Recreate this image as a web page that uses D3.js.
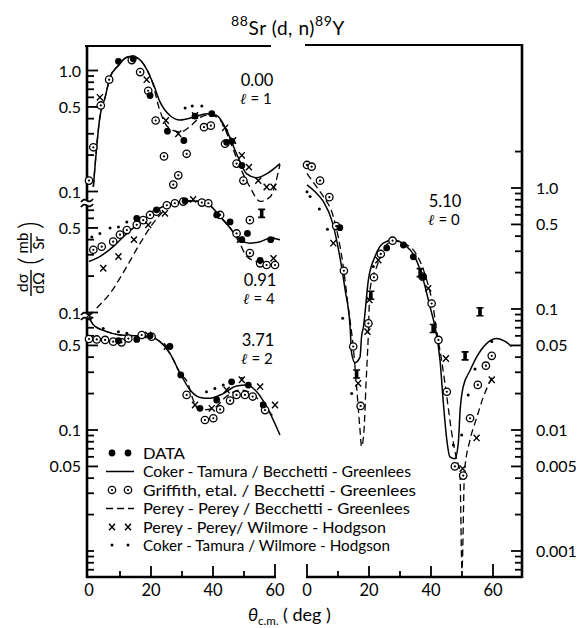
<!DOCTYPE html>
<html><head><meta charset="utf-8">
<script src="https://cdn.jsdelivr.net/npm/d3@7/dist/d3.min.js"></script>
<style>body{margin:0;background:#fff}</style></head>
<body><svg id="c" width="587" height="628"></svg>
<script>
// ---------------- DATA ----------------
const thetaTicks = [0,10,20,30,40,50,60];
const thetaLabels = [0,20,40,60];

const labelsA = [[1,"1.0"],[0.5,"0.5"],[0.1,"0.1"]];
const labelsB = [[0.5,"0.5"],[0.1,"0.1"]];
const labelsC = [[0.5,"0.5"],[0.1,"0.1"],[0.05,"0.05"]];
const labelsD = [[1,"1.0"],[0.5,"0.5"],[0.1,"0.1"],[0.05,"0.05"],[0.01,"0.01"],[0.005,"0.005"],[0.001,"0.001"]];

const legendLabels = ["DATA","Coker - Tamura / Becchetti - Greenlees","Griffith, etal. / Becchetti - Greenlees",
  "Perey - Perey / Becchetti - Greenlees","Perey - Perey/ Wilmore - Hodgson","Coker - Tamura / Wilmore - Hodgson"];

// Panel A : 0.00, l=1
const a_solid = [[1.4,0.109],[3.5,0.41],[5.2,0.60],[6.8,0.88],[9.5,1.10],[12,1.28],[14,1.31],[17.5,1.14],[20.7,0.78],[22.9,0.55],[26.1,0.425],[29.4,0.39],[33.6,0.41],[38,0.44],[41.2,0.425],[44.4,0.32],[47.6,0.205],[50.9,0.14],[54.1,0.13],[57.3,0.14],[61.6,0.17]];
const a_dash = [[1.4,0.109],[3.5,0.41],[5.2,0.60],[6.8,0.88],[9.5,1.10],[12,1.28],[14,1.31],[17.5,1.14],[20.7,0.76],[22.5,0.5],[25.5,0.34],[29.4,0.31],[32.6,0.345],[35.9,0.41],[39,0.43],[42.3,0.39],[45.5,0.26],[48.7,0.16],[51.9,0.109],[55.2,0.083],[58.4,0.090],[61.6,0.167]];
const a_data = [[9.5,1.19],[14.3,1.25],[19.7,0.62],[25.3,0.315],[30.6,0.264],[34.2,0.42],[39.6,0.44],[44.4,0.255],[46.1,0.26],[49.3,0.164]];
const a_err = [];
const a_circ = [[0,0.123],[1.4,0.232],[3.8,0.514],[6.5,0.84],[13.8,1.22],[16.5,0.97],[19.1,0.68],[21.5,0.386],[24.2,0.195],[27.2,0.114],[28.8,0.136],[31.5,0.205],[37.1,0.34],[39.3,0.35],[43.9,0.248],[47.6,0.17],[49.8,0.123]];
const a_cross = [[3.5,0.60],[18.6,0.84],[24.8,0.386],[28.8,0.30],[34.2,0.425],[43.9,0.336],[46.5,0.264],[49.3,0.199],[51.6,0.159],[54.6,0.123],[57.3,0.109],[59.5,0.109]];
const a_dot = [[31,0.49],[33.3,0.51],[36.4,0.51]];

// Panel B : 0.91, l=4
const b_solid = [[0,0.264],[3.5,0.29],[7.8,0.35],[12.2,0.45],[17.5,0.58],[22.9,0.73],[28.3,0.81],[33.6,0.836],[38,0.80],[42.3,0.62],[45.5,0.50],[48.7,0.40],[51.9,0.374],[55.2,0.385],[58.4,0.41],[61.6,0.40]];
const b_dash = [[2.5,0.109],[6.8,0.144],[12.2,0.24],[16.5,0.374],[20.7,0.547],[25.1,0.73],[29.4,0.83],[33.6,0.84],[38,0.80],[42.3,0.62],[45.5,0.50],[48.7,0.37],[50.9,0.29],[54.1,0.264],[57.3,0.255]];
const b_data = [[15.4,0.60],[21.8,0.705],[31,0.836],[41.2,0.64],[45.5,0.56],[49.3,0.40],[51.1,0.45],[55.2,0.27],[58.6,0.40]];
const b_err = [[55.7,0.66]];
const b_circ = [[1.4,0.33],[4.1,0.35],[7.8,0.385],[10,0.44],[12.2,0.48],[15.4,0.53],[17.5,0.58],[19.7,0.64],[21.8,0.68],[25.1,0.77],[27.7,0.80],[30.4,0.825],[36.4,0.81],[38.5,0.80],[42.3,0.64],[47.6,0.45],[51.9,0.58],[51.9,0.31],[55.2,0.255],[57.3,0.247],[60,0.247]];
const b_cross = [[4.6,0.232],[9.5,0.29],[14.5,0.40],[19.1,0.53],[24.5,0.66],[33.6,0.86],[48.7,0.40],[59.5,0.28]];
const b_dot = [[0.9,0.42],[3.5,0.45],[6.8,0.50],[9.5,0.51],[12.2,0.56],[59.5,0.41]];

// Panel C : 3.71, l=2
const c_solid = [[0,0.86],[1.4,0.74],[5.7,0.65],[10,0.61],[15.4,0.60],[19.7,0.59],[22.9,0.537],[26.1,0.43],[29.4,0.294],[32.6,0.214],[35.8,0.186],[39,0.183],[43.3,0.20],[47.6,0.231],[50.9,0.235],[54.1,0.207],[57.3,0.156],[61.6,0.091]];
const c_dash = [[0,0.86],[1.4,0.74],[5.7,0.65],[10,0.61],[15.4,0.60],[19.7,0.59],[22.9,0.537],[26.1,0.43],[29.4,0.294],[31.9,0.243],[33.6,0.177],[35.8,0.146],[40.1,0.151],[44.4,0.19],[48.7,0.214],[52.5,0.20],[56.2,0.161],[59.5,0.129]];
const c_data = [[9.5,0.547],[15.4,0.56],[19.7,0.60],[26.1,0.49],[29.6,0.285],[35.8,0.151],[41.2,0.177],[46,0.25],[51.4,0.235],[56.2,0.161]];
const c_err = [];
const c_circ = [[0,0.565],[2.5,0.56],[5.2,0.555],[7.8,0.537],[10.5,0.53],[12.7,0.57],[17,0.61],[20.2,0.59],[31.5,0.195],[37.4,0.121],[40.1,0.125],[42.3,0.148],[45.5,0.175],[47.6,0.195],[50.3,0.195],[52.8,0.189],[56.8,0.146]];
const c_cross = [[0,0.89],[19.1,0.61],[25.1,0.49],[34.2,0.161],[39.6,0.151],[44.4,0.214],[49.3,0.26],[55.2,0.228],[60,0.161]];
const c_dot = [[4.6,0.69],[9.5,0.65],[12.2,0.63],[37.9,0.207],[40.6,0.22],[43.3,0.235],[46.5,0.25],[49.3,0.267]];

// Panel D : 5.10, l=0
const d_solid = [[0,1.06],[2.6,0.93],[5.3,0.77],[8,0.54],[10.6,0.27],[12.3,0.144],[13.9,0.071],[14.4,0.043],[15.5,0.036],[17.1,0.040],[17.6,0.059],[18.2,0.071],[19.8,0.174],[21.9,0.27],[24.6,0.35],[27.8,0.372],[31.6,0.338],[34.8,0.27],[37.5,0.174],[39.7,0.104],[41.3,0.071],[42.9,0.038],[44,0.0166],[45.1,0.0083],[46.1,0.006],[47.7,0.0058],[48.8,0.0078],[49.4,0.0146],[50.4,0.0228],[52.6,0.031],[54.7,0.040],[58,0.052],[61.2,0.057],[63.9,0.054],[66,0.049]];
const d_dash = [[0,1.32],[3.1,1.02],[5.3,0.85],[8.5,0.58],[11.7,0.224],[13.3,0.104],[14.9,0.049],[16,0.0228],[17.1,0.010],[17.6,0.0073],[18.4,0.010],[19,0.0228],[19.8,0.063],[20.3,0.144],[22.5,0.224],[25.2,0.327],[27.8,0.365],[31.6,0.345],[35.4,0.28],[38.6,0.174],[40.7,0.104],[41.8,0.067],[43.4,0.038],[45.1,0.0188],[46.7,0.0094],[48.3,0.0057],[49.3,0.0046],[50,0.0007],[50.8,0.0045],[52.6,0.0083],[54.7,0.0125],[56.8,0.0185],[59.6,0.027]];
const d_data = [[10.6,0.47],[25.7,0.32],[31.1,0.338],[34.3,0.27],[37.5,0.185]];
const d_err = [[16,0.029],[20.6,0.13],[36.5,0.2],[40.7,0.069],[51,0.041],[55.8,0.095]];
const d_circ = [[0,1.55],[1.5,1.50],[4.2,1.15],[7.2,0.84],[9.4,0.485],[11.9,0.207],[14.9,0.049],[17.3,0.0158],[19.8,0.076],[21.6,0.183],[23.8,0.285],[27.6,0.367],[37.3,0.185],[40.2,0.111],[42.4,0.0555],[45.1,0.0207],[47.7,0.005],[50.4,0.0042],[52.6,0.0125],[55.1,0.0236],[57.7,0.034],[59.6,0.041]];
const d_cross = [[8.5,0.35],[16.5,0.0243],[19.5,0.065],[20.1,0.119],[23,0.254],[39.1,0.148],[44.8,0.039],[50.2,0.0048],[54.7,0.0086],[59.6,0.026]];
const d_dot = [[0,0.93],[1,0.85],[4,0.67],[6.6,0.456],[11.5,0.084],[14.4,0.020],[21.4,0.224],[47.2,0.0075],[49.9,0.0091],[52,0.0195],[54.2,0.032],[59.6,0.054]];

// ---------------- LAYOUT ----------------
const FONT = "Lato, 'DejaVu Sans', sans-serif";
const svg = d3.select("#c");
const xL = d3.scaleLinear().domain([0,60]).range([89,275]);
const xR = d3.scaleLinear().domain([0,60]).range([307,493]);
const yA = d3.scaleLog().domain([1,0.1]).range([70.5,191.5]);
const yB = d3.scaleLog().domain([1,0.1]).range([191.5,312.5]);
const yC = d3.scaleLog().domain([1,0.1]).range([309,430]);
const yD = d3.scaleLog().domain([1,0.1]).range([188,309]);
const BOT = 577, TOPL = 46, TOPR = 45, AXL = 87, AXR = 522;

// frame / axes
const g = svg.append("g").attr("stroke","#000").attr("fill","none");
g.append("line").attr("x1",AXL).attr("x2",AXL).attr("y1",TOPL-1).attr("y2",BOT+1).attr("stroke-width",2.6);
g.append("line").attr("x1",AXL-2).attr("x2",271).attr("y1",TOPL).attr("y2",TOPL).attr("stroke-width",2.2);
g.append("line").attr("x1",AXL-1).attr("x2",xL(60)+1).attr("y1",BOT).attr("y2",BOT).attr("stroke-width",2.6);
g.append("line").attr("x1",305).attr("x2",AXR+1).attr("y1",TOPR).attr("y2",TOPR).attr("stroke-width",2.2);
g.append("line").attr("x1",AXR).attr("x2",AXR).attr("y1",TOPR-1).attr("y2",BOT+1).attr("stroke-width",2.6);
g.append("line").attr("x1",xR(0)-1).attr("x2",AXR).attr("y1",BOT).attr("y2",BOT).attr("stroke-width",2.6);

// bottom ticks
[[xL,thetaTicks],[xR,thetaTicks]].forEach(([x,ts])=>{
  ts.forEach(t=>{
    if (x===xL && t===0) return;
    const major = thetaLabels.includes(t);
    const len = (t===60||(x===xR&&t===0)) ? 13 : (major ? 11 : 6);
    g.append("line").attr("x1",x(t)).attr("x2",x(t)).attr("y1",BOT).attr("y2",BOT-len).attr("stroke-width",1.8);
  });
});
const tl = svg.append("g").attr("font-family",FONT).attr("font-size",16.5).attr("text-anchor","middle").attr("fill","#000");
[xL,xR].forEach(x=>thetaLabels.forEach(t=>tl.append("text").attr("x",x(t)).attr("y",596).text(t)));

// log ticks helper
function logTicks(lo,hi){const out=[];for(let e=-4;e<=1;e++)for(let m=1;m<=9;m++){const v=m*Math.pow(10,e);if(v>=lo*0.999&&v<=hi*1.001)out.push(+v.toPrecision(3));}return out;}
function yTicks(scale,lo,hi,labels,side){
  const labVals = labels.map(d=>d[0]);
  logTicks(lo,hi).forEach(v=>{
    const y = scale(v);
    const isLab = labVals.some(l=>Math.abs(l-v)<1e-9);
    const len = isLab ? 11 : 7;
    const x0 = side==="L"?AXL:AXR, x1 = side==="L"?AXL+len:AXR-len;
    g.append("line").attr("x1",x0).attr("x2",x1).attr("y1",y).attr("y2",y).attr("stroke-width",1.8);
  });
  labels.forEach(([v,s])=>{
    tl.append("text").attr("x",side==="L"?81:536).attr("y",scale(v)+6)
      .attr("text-anchor",side==="L"?"end":"start").attr("font-size",16).text(s);
  });
}
yTicks(yA,0.1,1.0,labelsA,"L");
yTicks(yB,0.1,0.7,labelsB,"L");
yTicks(yC,0.007,0.7,labelsC,"L");
yTicks(yD,0.0007,2,labelsD,"R");

// axis breaks
[203,316].forEach(y=>{
  svg.append("rect").attr("x",AXL-3).attr("y",y-2.5).attr("width",6).attr("height",5).attr("fill","#fff");
  [-2.5,2.5].forEach(dy=>{
    svg.append("path").attr("d",`M${AXL-6},${y+dy+1.5} q3,-4 6,-1.5 t6,-1.5`).attr("fill","none").attr("stroke","#000").attr("stroke-width",1.8);
  });
});

// ---------- marks ----------
const panels = [
  {x:xL,y:yA,solid:a_solid,dash:a_dash,data:a_data,err:a_err,circ:a_circ,cross:a_cross,dot:a_dot},
  {x:xL,y:yB,solid:b_solid,dash:b_dash,data:b_data,err:b_err,circ:b_circ,cross:b_cross,dot:b_dot},
  {x:xL,y:yC,solid:c_solid,dash:c_dash,data:c_data,err:c_err,circ:c_circ,cross:c_cross,dot:c_dot},
  {x:xR,y:yD,solid:d_solid,dash:d_dash,data:d_data,err:d_err,circ:d_circ,cross:d_cross,dot:d_dot}
];
const m = svg.append("g");
function circSym(sel,cx,cy){
  sel.append("circle").attr("cx",cx).attr("cy",cy).attr("r",3.7).attr("fill","#fff").attr("stroke","#000").attr("stroke-width",1.3);
  sel.append("circle").attr("cx",cx).attr("cy",cy).attr("r",1.1).attr("fill","#000");
}
function crossSym(sel,cx,cy){
  sel.append("path").attr("d",`M${cx-3},${cy-3.2}L${cx+3},${cy+3.2}M${cx+3},${cy-3.2}L${cx-3},${cy+3.2}`).attr("stroke","#000").attr("stroke-width",1.4);
}
function dataSym(sel,cx,cy){sel.append("circle").attr("cx",cx).attr("cy",cy).attr("r",3.4).attr("fill","#000");}
function dotSym(sel,cx,cy){sel.append("circle").attr("cx",cx).attr("cy",cy).attr("r",1.5).attr("fill","#000");}
function errSym(sel,cx,cy){
  sel.append("path").attr("d",`M${cx-3.5},${cy-4}H${cx+3.5}M${cx-3.5},${cy+4}H${cx+3.5}`).attr("stroke","#000").attr("stroke-width",1.6);
  sel.append("rect").attr("x",cx-1.8).attr("y",cy-4).attr("width",3.6).attr("height",8).attr("fill","#000");
}
panels.forEach(p=>{
  const line = d3.line().x(d=>p.x(d[0])).y(d=>p.y(d[1])).curve(d3.curveMonotoneX);
  m.append("path").attr("d",line(p.solid)).attr("fill","none").attr("stroke","#000").attr("stroke-width",1.5);
  m.append("path").attr("d",line(p.dash)).attr("fill","none").attr("stroke","#000").attr("stroke-width",1.3).attr("stroke-dasharray","7,4");
});
panels.forEach(p=>{
  p.circ.forEach(d=>circSym(m,p.x(d[0]),p.y(d[1])));
  p.cross.forEach(d=>crossSym(m,p.x(d[0]),p.y(d[1])));
  p.data.forEach(d=>dataSym(m,p.x(d[0]),p.y(d[1])));
  p.err.forEach(d=>errSym(m,p.x(d[0]),p.y(d[1])));
  p.dot.forEach(d=>dotSym(m,p.x(d[0]),p.y(d[1])));
});

// ---------- panel labels ----------
const pl = svg.append("g").attr("font-family",FONT).attr("font-size",16.5).attr("text-anchor","middle");
[[257,86,"0.00","1"],[260,286,"0.91","4"],[258,346,"3.71","2"],[445,207,"5.10","0"]].forEach(([x,y,e,l])=>{
  pl.append("text").attr("x",x).attr("y",y).text(e);
  const t = pl.append("text").attr("x",x-1).attr("y",y+18).attr("font-size",15);
  t.append("tspan").attr("font-style","italic").attr("font-weight","bold").attr("font-family","'DejaVu Serif', serif").text("ℓ");
  t.append("tspan").text(" = " + l);
});

// ---------- legend ----------
const lg = svg.append("g").attr("font-family",FONT).attr("font-size",15);
const rowY = [453,471.5,490,508.5,527,545];
const textEnd = [185,411,416,410,386,390];
rowY.forEach((y,i)=>{
  const s = [dataSym,null,circSym,null,crossSym,dotSym][i];
  if (s){ s(lg,112,y); s(lg,128,y); }
  else lg.append("line").attr("x1",106).attr("x2",134).attr("y1",y).attr("y2",y).attr("stroke","#000").attr("stroke-width",1.5).attr("stroke-dasharray",i===3?"7,4":null);
  lg.append("text").attr("x",143).attr("y",y+5.5).attr("textLength",textEnd[i]-143).attr("lengthAdjust","spacingAndGlyphs").text(legendLabels[i]);
});

// ---------- titles ----------
const tt = svg.append("text").attr("x",288).attr("y",35).attr("text-anchor","middle").attr("font-family",FONT).attr("font-size",19).attr("letter-spacing",0.6);
tt.append("tspan").attr("font-size",14).attr("dy",-9).text("88");
tt.append("tspan").attr("dy",9).text("Sr (d, n)");
tt.append("tspan").attr("font-size",14).attr("dy",-9).text("89");
tt.append("tspan").attr("dy",9).text("Y");

const xt = svg.append("text").attr("x",248).attr("y",621).attr("font-family",FONT).attr("font-size",18);
xt.append("tspan").attr("font-style","italic").text("θ");
xt.append("tspan").attr("font-size",11.5).attr("dy",4).text("c.m.");
xt.append("tspan").attr("dy",-4).text(" ( deg )");

const yt = svg.append("g").attr("transform","translate(31,258) rotate(-90)").attr("font-family",FONT).attr("text-anchor","middle");
yt.append("text").attr("x",-25).attr("y",-3).attr("font-size",16).text("dσ");
yt.append("line").attr("x1",-38).attr("x2",-12).attr("y1",0).attr("y2",0).attr("stroke","#000").attr("stroke-width",1.4);
yt.append("text").attr("x",-25).attr("y",13).attr("font-size",16).text("dΩ");
yt.append("text").attr("x",-3).attr("y",9).attr("font-size",30).attr("font-weight",300).text("(");
yt.append("text").attr("x",15).attr("y",-3).attr("font-size",15).text("mb");
yt.append("line").attr("x1",5).attr("x2",25).attr("y1",0).attr("y2",0).attr("stroke","#000").attr("stroke-width",1.4);
yt.append("text").attr("x",15).attr("y",13).attr("font-size",15).text("Sr");
yt.append("text").attr("x",33).attr("y",9).attr("font-size",30).attr("font-weight",300).text(")");
</script></body></html>
